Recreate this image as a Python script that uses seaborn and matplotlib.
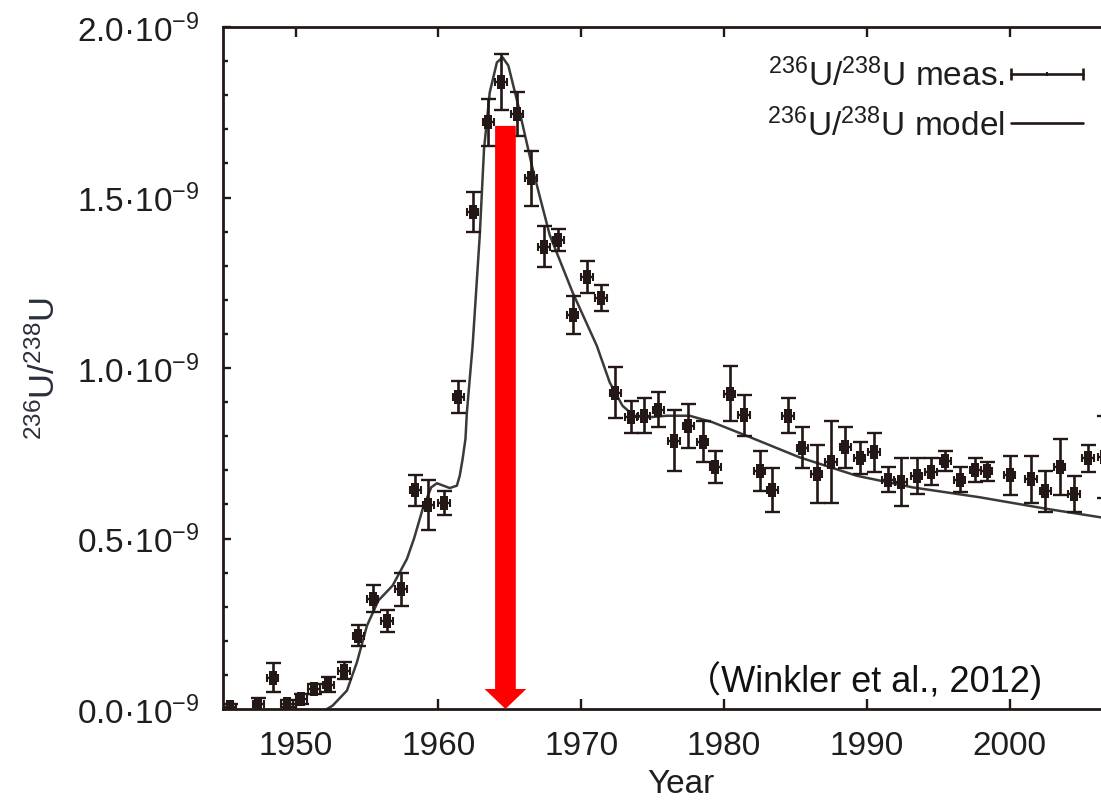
import numpy as np
import pandas as pd
import matplotlib
matplotlib.use("Agg")
import matplotlib.pyplot as plt
import seaborn as sns
from matplotlib.patches import FancyArrowPatch, ArrowStyle
from matplotlib.lines import Line2D
from matplotlib.legend_handler import HandlerLine2D, HandlerTuple
from matplotlib.ticker import FixedLocator, FixedFormatter, MultipleLocator

# ---------------- data (236U/238U ratio in units of 1e-9) ----------------
meas_years = [1945.4, 1947.4, 1948.4, 1949.4, 1950.4, 1951.3, 1952.3, 1953.4, 1954.4, 1955.4,
              1956.4, 1957.4, 1958.4, 1959.3, 1960.4, 1961.4, 1962.4, 1963.5, 1964.4, 1965.5,
              1966.5, 1967.4, 1968.4, 1969.4, 1970.4, 1971.4, 1972.4, 1973.5, 1974.4, 1975.4,
              1976.5, 1977.5, 1978.5, 1979.4, 1980.4, 1981.4, 1982.5, 1983.4, 1984.5, 1985.5,
              1986.5, 1987.5, 1988.5, 1989.5, 1990.5, 1991.5, 1992.4, 1993.5, 1994.5, 1995.5,
              1996.5, 1997.6, 1998.4, 2000.0, 2001.5, 2002.5, 2003.5, 2004.5, 2005.5, 2006.6]
meas_ratio = [0.005, 0.015, 0.092, 0.015, 0.030, 0.059, 0.071, 0.112, 0.215, 0.324,
              0.258, 0.351, 0.641, 0.599, 0.604, 0.914, 1.458, 1.721, 1.839, 1.744,
              1.556, 1.355, 1.376, 1.156, 1.266, 1.205, 0.927, 0.855, 0.860, 0.878,
              0.787, 0.829, 0.784, 0.710, 0.925, 0.861, 0.698, 0.642, 0.860, 0.766,
              0.689, 0.724, 0.767, 0.737, 0.753, 0.672, 0.665, 0.683, 0.696, 0.728,
              0.672, 0.701, 0.697, 0.685, 0.674, 0.638, 0.710, 0.630, 0.735, 0.740]
meas_err = [0.010, 0.017, 0.043, 0.010, 0.015, 0.015, 0.022, 0.025, 0.031, 0.040,
            0.031, 0.048, 0.046, 0.073, 0.035, 0.047, 0.059, 0.069, 0.082, 0.065,
            0.080, 0.060, 0.032, 0.056, 0.047, 0.039, 0.075, 0.047, 0.052, 0.052,
            0.090, 0.065, 0.061, 0.048, 0.080, 0.060, 0.060, 0.065, 0.051, 0.060,
            0.085, 0.121, 0.059, 0.047, 0.057, 0.037, 0.070, 0.052, 0.039, 0.029,
            0.037, 0.034, 0.028, 0.058, 0.069, 0.061, 0.082, 0.052, 0.040, 0.120]
meas_xerr = [0.4] * len(meas_years)

model_years = [1952.2, 1952.6, 1953.6, 1954.3, 1955.0, 1955.8, 1956.8, 1957.8, 1958.3, 1958.9,
               1959.5, 1959.9, 1960.8, 1961.3, 1961.5, 1961.7, 1961.9, 1962.0, 1962.2, 1962.4,
               1962.9, 1963.2, 1963.6, 1964.1, 1964.5, 1964.9, 1965.6, 1966.6, 1967.8, 1969.4,
               1971.1, 1972.0, 1972.9, 1973.7, 1974.6, 1976.0, 1977.6, 1979.2, 1981.6, 1985.3,
               1989.3, 1993.2, 1997.9, 2002.6, 2006.4, 2009.0]
model_ratio = [0.0, 0.01, 0.054, 0.137, 0.244, 0.318, 0.362, 0.44, 0.5, 0.586,
               0.65, 0.662, 0.648, 0.655, 0.684, 0.733, 0.792, 0.87, 0.968, 1.065,
               1.388, 1.642, 1.808, 1.896, 1.911, 1.887, 1.769, 1.585, 1.39, 1.222,
               1.065, 0.958, 0.889, 0.86, 0.855, 0.86, 0.86, 0.841, 0.801, 0.738,
               0.684, 0.65, 0.621, 0.587, 0.562, 0.548]

x_ticks = [1950, 1960, 1970, 1980, 1990, 2000]
x_tick_labels = ["1950", "1960", "1970", "1980", "1990", "2000"]
y_ticks = [0.0, 0.5, 1.0, 1.5, 2.0]
y_tick_labels = [r"0.0·10$^{\mathregular{-9}}$", r"0.5·10$^{\mathregular{-9}}$",
                 r"1.0·10$^{\mathregular{-9}}$", r"1.5·10$^{\mathregular{-9}}$",
                 r"2.0·10$^{\mathregular{-9}}$"]
legend_labels = [r"$^{\mathregular{236}}$U/$^{\mathregular{238}}$U meas.",
                 r"$^{\mathregular{236}}$U/$^{\mathregular{238}}$U model"]
y_label = r"$^{\mathregular{236}}$U/$^{\mathregular{238}}$U"
x_label = "Year"
citation = "（Winkler et al., 2012)"
arrow_year, arrow_top, arrow_tip = 1964.7, 1.71, 0.0

# ---------------- style ----------------
sns.set_theme(style="ticks")
plt.rcParams["font.family"] = ["Liberation Sans", "Noto Sans CJK JP", "DejaVu Sans"]
plt.rcParams["mathtext.fontset"] = "custom"
plt.rcParams["mathtext.rm"] = "Liberation Sans"
plt.rcParams["mathtext.it"] = "Liberation Sans:italic"
plt.rcParams["mathtext.bf"] = "Liberation Sans:bold"

INK = "#231815"
TXT = "#1e1e1e"

fig = plt.figure(figsize=(11.01, 8.04), dpi=100)
fig.patch.set_facecolor("white")
W, H = 1101.0, 804.0
px_per_year = 14.28
x0, x1 = 1944.9, 2009.0
ax_w_px = (x1 - x0) * px_per_year
ax = fig.add_axes([222.7 / W, 94 / H, ax_w_px / W, 682 / H])
ax.set_facecolor("white")

# model curve
model_df = pd.DataFrame({"year": model_years, "ratio": model_ratio})
sns.lineplot(data=model_df, x="year", y="ratio", sort=False, estimator=None,
             color="#3a3a3a", lw=1.8, ax=ax, zorder=2)

# measured points with error bars
ax.errorbar(meas_years, meas_ratio, yerr=meas_err, fmt="none", ecolor=INK,
            elinewidth=1.9, capsize=5.4, capthick=1.7, zorder=3)
ax.errorbar(meas_years, meas_ratio, xerr=meas_xerr, fmt="none", ecolor=INK,
            elinewidth=1.7, capsize=3.0, capthick=1.5, zorder=3)
rect = [(-0.32, -0.5), (0.32, -0.5), (0.32, 0.5), (-0.32, 0.5), (-0.32, -0.5)]
meas_df = pd.DataFrame({"year": meas_years, "ratio": meas_ratio})
sns.scatterplot(data=meas_df, x="year", y="ratio", marker=rect, s=92, color=INK,
                linewidth=0, ax=ax, zorder=4)

# red arrow
arrow = FancyArrowPatch((arrow_year, arrow_top), (arrow_year, arrow_tip),
                        arrowstyle=ArrowStyle("Simple", head_length=14.4, head_width=30,
                                              tail_width=14.9),
                        mutation_scale=1, color="#ff0000", lw=0,
                        shrinkA=0, shrinkB=0, zorder=5)
ax.add_patch(arrow)

# axes
ax.set_xlim(x0, x1)
ax.set_ylim(0, 2.0)
ax.xaxis.set_major_locator(FixedLocator(x_ticks))
ax.xaxis.set_major_formatter(FixedFormatter(x_tick_labels))
ax.yaxis.set_major_locator(FixedLocator(y_ticks))
ax.yaxis.set_major_formatter(FixedFormatter(y_tick_labels))
ax.yaxis.set_minor_locator(MultipleLocator(0.1))
ax.tick_params(axis="x", which="major", direction="in", length=7.2, width=1.7,
               top=True, bottom=True, labelsize=24, pad=15, color=INK, labelcolor=TXT)
ax.tick_params(axis="y", which="major", direction="in", length=5.5, width=1.7,
               left=True, right=True, labelsize=24, pad=17, color=INK, labelcolor=TXT)
ax.tick_params(axis="y", which="minor", direction="in", length=3.6, width=1.7,
               left=True, right=True, color=INK)
for sp in ax.spines.values():
    sp.set_color(INK)
    sp.set_linewidth(2.0)

ax.set_xlabel(x_label, fontsize=24, color=TXT, labelpad=5)
ax.set_ylabel(y_label, fontsize=25, color="#2a2f3a")
ax.yaxis.set_label_coords((62 - 222.7) / ax_w_px, 0.5)

# legend
h_line = Line2D([], [], color=INK, lw=1.9, marker="|", ms=9, mew=1.9)
h_mid = Line2D([], [], color=INK, lw=0, marker="|", ms=3, mew=1.5)
h_model = Line2D([], [], color=INK, lw=1.9)
leg = ax.legend([(h_line, h_mid), h_model], legend_labels,
                handler_map={h_line: HandlerLine2D(numpoints=2, marker_pad=0),
                             h_mid: HandlerLine2D(numpoints=1),
                             tuple: HandlerTuple(ndivide=1, pad=0)},
                loc="upper right", bbox_to_anchor=(1083 / W, (H - 59) / H),
                bbox_transform=fig.transFigure, frameon=False, markerfirst=False,
                fontsize=24, handlelength=2.15, handletextpad=0.2, labelspacing=0.45,
                borderpad=0, borderaxespad=0)
for t in leg.get_texts():
    t.set_color(TXT)

# citation
fig.text(1042 / W, (H - 692) / H, citation, ha="right", va="baseline",
         fontsize=26, color="#111111")

fig.savefig("out.png", dpi=100, facecolor="white")
